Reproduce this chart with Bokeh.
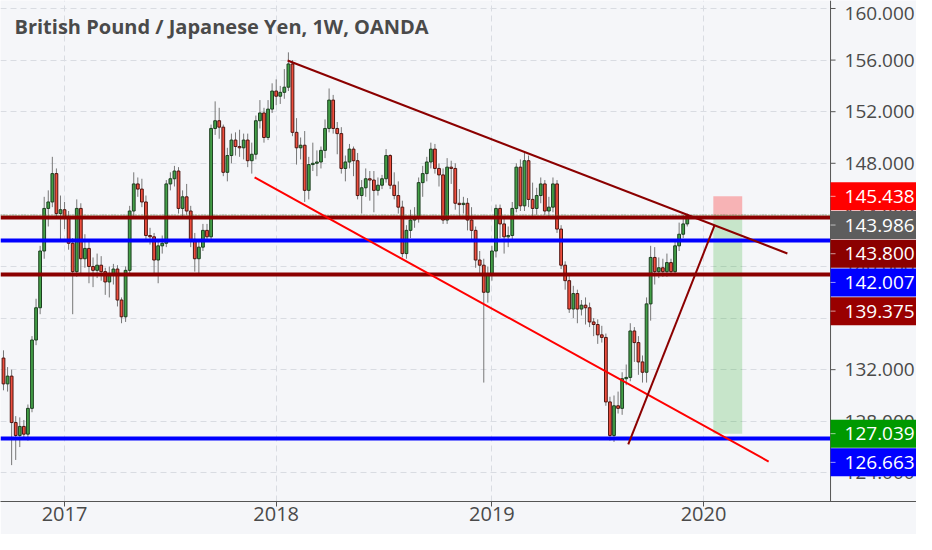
import pandas as pd
from bokeh.plotting import figure
from bokeh.models import ColumnDataSource, FixedTicker, Grid, Label
from bokeh.core.properties import value
from bokeh.embed import file_html
from bokeh.resources import INLINE

# ---------------- data ----------------
title_text = "British Pound / Japanese Yen, 1W, OANDA"
first_week = "2016-09-19"

opens = [
132.9,130.9,131.5,127.9,126.9,127.6,127.0,129.0,134.3,136.8,
141.2,144.5,145.0,147.2,144.1,144.4,143.8,141.8,139.6,144.5,
140.6,141.4,140.0,139.7,140.1,139.6,138.8,139.4,139.8,137.4,
136.1,139.7,144.3,146.4,146.0,145.0,142.4,142.3,140.5,141.6,
141.8,146.4,146.8,147.4,144.5,145.4,144.3,142.1,140.6,141.5,
142.8,142.3,150.7,151.3,150.8,147.3,148.6,149.8,149.3,149.2,
149.8,148.2,148.7,151.3,151.9,150.0,152.2,153.6,153.2,153.5,
153.9,155.7,150.4,149.2,149.4,145.9,147.9,148.0,148.1,149.0,
150.7,152.9,150.7,150.3,147.6,148.1,149.1,148.2,145.5,146.1,
146.8,146.7,145.9,146.3,146.8,148.6,146.3,145.5,144.6,141.0,
142.8,143.6,143.8,146.5,147.2,148.1,149.1,147.6,147.1,143.6,
147.7,147.6,144.9,144.8,144.9,143.6,142.8,140.5,140.1,138.0,
139.3,141.2,144.5,143.3,142.3,142.4,144.5,147.7,144.7,148.2,
145.2,144.5,145.5,146.4,144.3,144.6,146.4,142.9,140.1,138.9,
136.7,137.9,136.7,137.0,136.8,135.7,135.5,134.7,134.5,129.5,
126.9,129.2,129.0,131.3,131.4,135.0,134.1,132.6,131.8,137.1,
140.7,139.6,139.9,139.6,140.3,139.6,141.6,142.5,143.3,
]
highs = [
133.5,132.2,132.0,128.4,128.3,128.1,129.3,134.6,137.5,141.6,
145.4,145.9,148.5,147.6,145.5,145.0,144.3,142.2,145.2,144.9,
142.5,141.9,140.7,141.0,140.8,139.9,140.0,140.2,140.1,137.6,
140.0,144.7,147.3,146.9,146.8,145.5,143.0,142.6,142.0,142.4,
146.7,147.3,147.8,147.7,145.9,146.4,144.7,142.6,141.9,143.3,
143.3,151.0,152.8,152.3,151.0,149.2,150.3,150.4,150.6,150.3,
150.3,149.6,151.7,152.9,152.3,152.9,154.2,154.5,154.0,155.3,
156.6,156.0,151.5,150.0,150.5,148.5,149.6,149.0,149.3,151.4,
153.8,153.3,151.2,150.8,148.6,149.5,149.3,148.8,146.7,147.6,
147.4,147.4,146.9,147.1,149.1,148.7,147.3,146.6,145.1,143.2,
144.4,144.6,146.9,147.8,148.5,149.6,149.5,148.0,147.6,148.4,
148.2,148.0,146.0,145.4,145.3,144.6,143.1,141.2,140.6,140.0,
141.6,144.8,144.8,143.9,143.1,145.0,148.0,148.3,148.9,148.6,
146.5,146.1,146.9,146.7,145.4,146.9,146.7,143.2,140.4,139.3,
138.5,138.2,137.4,137.6,137.2,136.0,135.9,135.4,134.8,129.9,
130.0,130.3,131.8,132.4,135.6,135.3,134.6,133.1,137.6,141.6,
141.5,140.7,140.6,141.0,140.6,142.0,143.4,144.0,144.1,
]
lows = [
130.4,130.3,124.6,125.0,126.0,126.6,126.5,128.7,133.9,136.3,
140.6,143.1,144.6,143.8,142.0,142.9,141.3,136.3,139.2,139.3,
139.9,138.7,138.4,139.1,138.9,137.8,137.6,138.6,136.9,135.6,
135.7,139.4,143.9,145.4,144.6,142.0,141.7,139.4,138.7,141.0,
141.5,145.9,146.2,144.1,143.8,144.0,141.5,139.6,139.4,141.2,
141.9,142.1,150.2,149.9,147.0,146.6,148.0,148.6,148.5,148.3,
147.7,147.2,148.3,150.7,149.6,149.8,151.9,152.5,152.6,153.0,
153.6,150.1,147.9,148.3,145.0,145.2,147.4,147.0,147.6,148.4,
150.4,150.3,148.7,147.2,146.6,147.6,147.0,145.2,144.1,145.4,
145.1,144.2,145.5,146.0,146.5,146.0,145.2,144.1,140.7,140.6,
142.2,143.0,143.4,145.4,146.6,147.6,147.2,146.2,143.3,143.3,
146.4,144.4,143.7,144.1,142.8,142.1,139.9,139.3,131.0,137.2,
138.9,140.7,142.2,141.0,141.5,142.1,144.2,144.3,144.3,144.6,
143.9,144.0,144.9,144.0,143.8,144.2,142.6,139.8,138.2,136.4,
136.0,135.6,136.2,135.5,135.3,134.6,134.0,134.1,129.2,126.5,
126.4,128.6,128.5,130.8,131.1,132.6,131.6,131.0,131.0,135.8,
138.6,139.1,139.2,139.2,139.3,139.3,141.2,142.2,143.1,
]
closes = [
130.9,131.5,127.9,126.9,127.6,127.0,129.0,134.3,136.8,141.2,
144.5,145.0,147.2,144.1,144.4,143.8,141.8,139.6,144.5,140.6,
141.4,140.0,139.7,140.1,139.6,138.8,139.4,139.8,137.4,136.1,
139.7,144.3,146.4,146.0,145.0,142.4,142.3,140.5,141.6,141.8,
146.4,146.8,147.4,144.5,145.4,144.3,142.1,140.6,141.5,142.8,
142.3,150.7,151.3,150.8,147.3,148.6,149.8,149.3,149.2,149.8,
148.2,148.7,151.3,151.9,150.0,152.2,153.6,153.2,153.5,153.9,
155.7,150.4,149.2,149.4,145.9,147.9,148.0,148.1,149.0,150.7,
152.9,150.7,150.3,147.6,148.1,149.1,148.2,145.5,146.1,146.8,
146.7,145.9,146.3,146.8,148.6,146.3,145.5,144.6,141.0,142.8,
143.6,143.8,146.5,147.2,148.1,149.1,147.6,147.1,143.6,147.7,
147.6,144.9,144.8,144.9,143.6,142.8,140.5,140.1,138.0,139.3,
141.2,144.5,143.3,142.3,142.4,144.5,147.7,144.7,148.2,145.2,
144.5,145.5,146.4,144.3,144.6,146.4,142.9,140.1,138.9,136.7,
137.9,136.7,137.0,136.8,135.7,135.5,134.7,134.5,129.5,126.9,
129.2,129.0,131.3,131.4,135.0,134.1,132.6,131.8,137.1,140.7,
139.6,139.9,139.6,140.3,139.6,141.6,142.5,143.3,143.986,
]

year_labels = ["2017", "2018", "2019", "2020"]
price_ticks = [124, 128, 132, 136, 140, 144, 148, 152, 156, 160]

# horizontal support / resistance levels
level_values = [143.800, 142.007, 139.375, 126.663]
level_colors = ["#8b0000", "#0000ff", "#8b0000", "#0000ff"]
last_price = 143.986

# trend lines (bar index, price)
upper_x = [69.8, 192.6]
upper_y = [155.97, 141.01]
lower_x = [61.7, 188.0]
lower_y = [146.90, 124.88]
rise_x = [153.5, 174.7]
rise_y = [126.20, 143.18]

# short position tool
pos_x = [174.4, 181.5]
pos_entry = 143.986
pos_stop = 145.438
pos_target = 127.039

# price tags on the scale (descending)
tag_values = [145.438, 143.986, 143.800, 142.007, 139.375, 127.039, 126.663]
tag_colors = ["#ff0000", "#5d5d5d", "#8b0000", "#0000ff", "#990000", "#009900", "#0000ff"]

# ---------------- layout ----------------
BG = "#f5f6f9"
W, H = 916, 534
BOTTOM = 33
X0, XS, X1 = -0.737, 203.2, 224.32     # left edge, price-scale line, right edge (bar index)
Y0, Y1 = 121.78, 160.62
px_bar = W / (X1 - X0)
px_unit = (H - BOTTOM) / (Y1 - Y0)
TAG_H = 28
TAG_W = W - (XS - X0) * px_bar
LBL_DX = 14
SCALE_FONT = "19px"

n = len(closes)
dates = pd.date_range(first_week, periods=n + 60, freq="W-MON")
idx = list(range(n))
year_bars = [i for i in range(1, len(dates)) if dates[i].year != dates[i - 1].year][:len(year_labels)]

up = [c >= o for o, c in zip(opens, closes)]
src = ColumnDataSource(dict(
    x=idx, high=highs, low=lows,
    top=[max(o, c) for o, c in zip(opens, closes)],
    bottom=[min(o, c) for o, c in zip(opens, closes)],
    fill=["#43a047" if u else "#ee4e3e" for u in up],
    line=["#1d3f20" if u else "#4e1510" for u in up],
))

p = figure(width=W, height=H, x_range=(X0, X1), y_range=(Y0, Y1),
           y_axis_location=None, toolbar_location=None, output_backend="svg",
           min_border_left=0, min_border_top=0, min_border_right=0, min_border_bottom=BOTTOM,
           background_fill_color=BG, border_fill_color=BG, outline_line_color=None)

# grid
p.ygrid.visible = False
p.xgrid.grid_line_color = "#d9dce2"
p.xgrid.grid_line_dash = "6 4"
p.add_layout(Grid(dimension=1, ticker=FixedTicker(ticks=price_ticks),
                  grid_line_color="#d9dce2", grid_line_dash="6 4"))

# time axis
p.xaxis.ticker = FixedTicker(ticks=year_bars)
p.xaxis.major_label_overrides = {b: lab for b, lab in zip(year_bars, year_labels)}
p.xaxis.axis_line_color = "#555555"
p.xaxis.major_tick_line_color = "#555555"
p.xaxis.major_tick_out = 5
p.xaxis.major_tick_in = 0
p.xaxis.minor_tick_out = 0
p.xaxis.minor_tick_in = 0
p.xaxis.major_label_text_font = "Open Sans"
p.xaxis.major_label_text_font_size = "20px"
p.xaxis.major_label_text_color = "#4a4a4a"
p.xaxis.major_label_standoff = 0

# position tool boxes
p.quad(left=[pos_x[0]], right=[pos_x[1]], bottom=[pos_entry], top=[pos_stop],
       fill_color="#ff0000", fill_alpha=0.27, line_color=None)
p.quad(left=[pos_x[0]], right=[pos_x[1]], bottom=[pos_target], top=[pos_entry],
       fill_color="#00a000", fill_alpha=0.19, line_color=None)

# candles
p.segment(x0="x", y0="low", x1="x", y1="high", source=src, line_color="#777777", line_width=1)
p.vbar(x="x", top="top", bottom="bottom", width=0.68, source=src,
       fill_color="fill", line_color="line", line_width=1)

# level lines (up to the price scale)
nl = len(level_values)
p.segment(x0=[X0] * nl, y0=level_values, x1=[XS] * nl, y1=level_values,
          line_color=level_colors, line_width=4)
p.segment(x0=[X0], y0=[last_price], x1=[XS], y1=[last_price],
          line_color="#5f8a3a", line_width=1, line_dash="1 2")

# trend lines
p.line(upper_x, upper_y, line_color="#8b0000", line_width=2)
p.line(lower_x, lower_y, line_color="#ff0000", line_width=2)
p.line(rise_x, rise_y, line_color="#8b0000", line_width=2)

# ---- price scale on the right ----
p.quad(left=[XS], right=[X1], bottom=[Y0], top=[Y1], fill_color=BG, line_color=None)
p.segment(x0=[XS], y0=[Y0], x1=[XS], y1=[Y1], line_color="#555555", line_width=1)
nt = len(price_ticks)
p.ray(x=[XS] * nt, y=price_ticks, length=5, length_units="screen", angle=0,
      line_color="#555555", line_width=1)
label_top_limit = Y1 - 13 / px_unit       # keep the topmost label inside the canvas
p.text(x=[XS] * nt, y=[min(t, label_top_limit) for t in price_ticks],
       text=[f"{t:.3f}" for t in price_ticks], x_offset=LBL_DX,
       text_baseline="middle", text_align="left", text_font=value("Open Sans"),
       text_font_size=SCALE_FONT, text_color="#4a4a4a")

# stacked price tags (pushed down when they would overlap, as on the scale)
gap = (TAG_H + 0.7) / px_unit
tag_y = []
for v in tag_values:
    y = v if not tag_y else min(v, tag_y[-1] - gap)
    tag_y.append(y)
nt2 = len(tag_values)
p.rect(x=[XS + TAG_W / 2 / px_bar] * nt2, y=tag_y, width=TAG_W, height=TAG_H,
       width_units="screen", height_units="screen", fill_color=tag_colors, line_color=None)
p.ray(x=[XS] * nt2, y=tag_y, length=5, length_units="screen", angle=0,
      line_color="white", line_alpha=0.6, line_width=1)
p.text(x=[XS] * nt2, y=tag_y, text=[f"{v:.3f}" for v in tag_values], x_offset=LBL_DX,
       text_baseline="middle", text_align="left", text_font=value("Open Sans"),
       text_font_size=SCALE_FONT, text_color="white")

# title
p.add_layout(Label(x=14, y=H - BOTTOM - 26, x_units="screen", y_units="screen", text=title_text,
                   text_font="Open Sans", text_font_style="bold", text_font_size="20px",
                   text_color="#4a4a4a", text_baseline="middle", text_align="left"))

open("out.html", "w").write(file_html(p, INLINE))
